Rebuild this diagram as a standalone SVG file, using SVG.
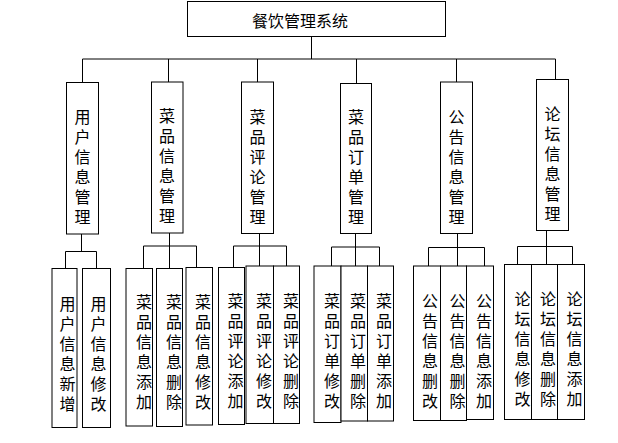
<svg xmlns="http://www.w3.org/2000/svg" width="618" height="443" viewBox="0 0 618 443">
<style>
rect{fill:#fff;stroke:#000;stroke-width:1}
path{fill:none;stroke:#000;stroke-width:1}
text{font-family:"Noto Sans CJK SC","Noto Sans CJK TC",sans-serif;font-size:16px;fill:#000}
.t{text-anchor:middle}
.v{writing-mode:vertical-rl;letter-spacing:4px}
</style>
<rect x="0" y="0" width="618" height="443" style="stroke:none"/>
<g id="connectors">
<path d="M311.5 36V59M82.5 59H555.5M82.5 59V82M168.5 59V82M257.5 59V82M356.5 59V83.5M456.5 59V82M555.5 59V79.5"/>
<path d="M81.5 234V251.5M65.5 251.5H96.5M65.5 251.5V268.5M96.5 251.5V268.5"/>
<path d="M169.5 233V246M143.5 246H196.5M143.5 246V268.5M169.5 246V268.5M196.5 246V267.5"/>
<path d="M259.5 233.5V246M233.5 246H286.5M233.5 246V267.5M259.5 246V266M286.5 246V266"/>
<path d="M355.5 233.5V247M331.5 247H379.5M331.5 247V266M355.5 247V266M379.5 247V266"/>
<path d="M457.5 233.5V247.5M428.5 247.5H484.5M428.5 247.5V266M457.5 247.5V266M484.5 247.5V266"/>
<path d="M546.5 230.5V246.5M517.5 246.5H572.5M517.5 246.5V264.5M546.5 246.5V264.5M572.5 246.5V264.5"/>
</g>
<g id="root"><rect x="187.5" y="1.5" width="258" height="35"/><text class="t" x="300" y="27">餐饮管理系统</text></g>
<g id="n1"><rect x="66.5" y="82.5" width="32" height="151.5"/><text class="v" x="82.5" y="109">用户信息管理</text></g>
<g id="n2"><rect x="151.5" y="82" width="31.5" height="151"/><text class="v" x="167" y="107.5">菜品信息管理</text></g>
<g id="n3"><rect x="241.5" y="82" width="32" height="151.5"/><text class="v" x="257.5" y="108.5">菜品评论管理</text></g>
<g id="n4"><rect x="340.5" y="83.5" width="31" height="150"/><text class="v" x="356" y="109">菜品订单管理</text></g>
<g id="n5"><rect x="440.5" y="82" width="32" height="151.5"/><text class="v" x="456.5" y="108.5">公告信息管理</text></g>
<g id="n6"><rect x="536.5" y="79.5" width="32" height="151"/><text class="v" x="552.5" y="106">论坛信息管理</text></g>
<g id="g1a"><rect x="52" y="268.5" width="25" height="159"/><text class="v" x="67.5" y="295.5">用户信息新增</text></g>
<g id="g1b"><rect x="82.5" y="268.5" width="28" height="159"/><text class="v" x="98.5" y="295.5">用户信息修改</text></g>
<g id="g2a"><rect x="126" y="268.5" width="26.5" height="157.5"/><text class="v" x="144" y="294">菜品信息添加</text></g>
<g id="g2b"><rect x="156.5" y="268.5" width="26" height="158"/><text class="v" x="174" y="294">菜品信息删除</text></g>
<g id="g2c"><rect x="186" y="267.5" width="26.5" height="157.5"/><text class="v" x="203" y="294">菜品信息修改</text></g>
<g id="g3a"><rect x="218.5" y="267.5" width="26" height="157"/><text class="v" x="235.5" y="292.5">菜品评论添加</text></g>
<g id="g3b"><rect x="246" y="266" width="27.5" height="157.5"/><text class="v" x="264" y="292.5">菜品评论修改</text></g>
<g id="g3c"><rect x="273.5" y="266" width="26" height="157.5"/><text class="v" x="291" y="292.5">菜品评论删除</text></g>
<g id="g4a"><rect x="314" y="266" width="27" height="156.5"/><text class="v" x="332" y="293">菜品订单修改</text></g>
<g id="g4b"><rect x="341" y="266" width="26.5" height="155"/><text class="v" x="358" y="293">菜品订单删除</text></g>
<g id="g4c"><rect x="367.5" y="266" width="26" height="155"/><text class="v" x="384" y="293">菜品订单添加</text></g>
<g id="g5a"><rect x="413.5" y="266" width="27" height="154.5"/><text class="v" x="430" y="292.5">公告信息删改</text></g>
<g id="g5b"><rect x="440.5" y="266" width="26" height="154.5"/><text class="v" x="457.5" y="292.5">公告信息删除</text></g>
<g id="g5c"><rect x="466.5" y="266" width="27" height="153.5"/><text class="v" x="484" y="292.5">公告信息添加</text></g>
<g id="g6a"><rect x="504.5" y="264.5" width="27" height="155"/><text class="v" x="522.5" y="291">论坛信息修改</text></g>
<g id="g6b"><rect x="531.5" y="264.5" width="26" height="155"/><text class="v" x="548" y="291">论坛信息删除</text></g>
<g id="g6c"><rect x="557.5" y="264.5" width="27" height="155"/><text class="v" x="574.5" y="291">论坛信息添加</text></g>
</svg>
